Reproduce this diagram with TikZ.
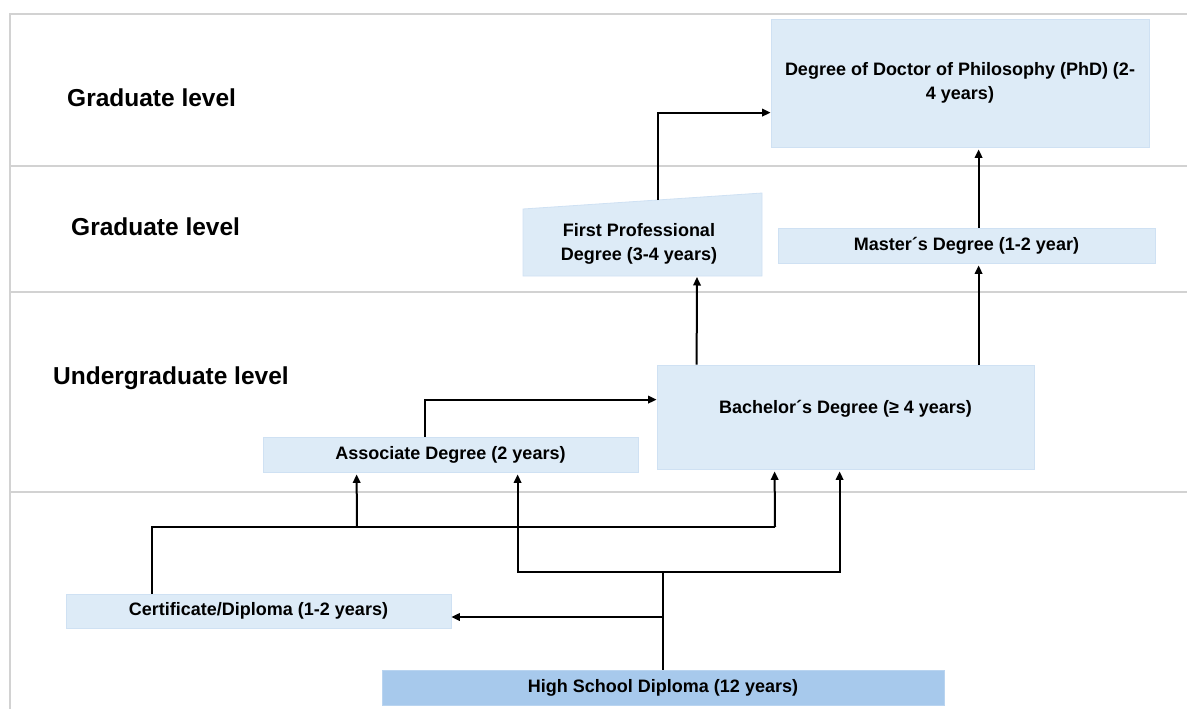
\documentclass[tikz,border=0pt]{standalone}
\usepackage{fontspec}
\setmainfont{Liberation Sans}
\usetikzlibrary{arrows.meta,calc}
\definecolor{boxfill}{HTML}{DDEBF7}
\definecolor{boxedge}{HTML}{CFE1F3}
\definecolor{hsfill}{HTML}{A7C9EC}
\definecolor{sepgray}{HTML}{D2D2D2}
\tikzset{
  box/.style={rectangle, fill=boxfill, draw=boxedge, line width=0.8pt, inner sep=0pt, align=center,
    font=\fontsize{18}{24}\selectfont\bfseries},
  lvl/.style={anchor=west, inner sep=0pt, font=\fontsize{24.5}{28}\selectfont\bfseries},
  sep/.style={draw=sepgray, line width=2.5pt},
  conn/.style={line width=2pt, black},
  arr/.style={conn, -{Triangle[length=8.5pt,width=7.5pt]}},
}
\begin{document}
\begin{tikzpicture}[x=1pt,y=-1pt]
\useasboundingbox (0,0) rectangle (1187,709);
% frame and band separators
\draw[sep] (1187,14) -- (10,14) -- (10,709);
\draw[sep] (10,166) -- (1187,166);
\draw[sep] (10,292) -- (1187,292);
\draw[sep] (10,492) -- (1187,492);
% level labels
\node[lvl] (l1) at (67,98) {Graduate level};
\node[lvl] (l2) at (71,227) {Graduate level};
\node[lvl] (l3) at (53,378) {Undergraduate level};
% boxes
\node[box, minimum width=378pt, minimum height=128pt] (phd) at (960,83)
  {Degree of Doctor of Philosophy (PhD) (2-\\4 years)};
\node[box, minimum width=377pt, minimum height=35pt] (ms) at (966.5,245.5) {Master´s Degree (1-2 year)};
\node[box, minimum width=377pt, minimum height=104pt] (ba) at (845.5,417) {\raisebox{20pt}{Bachelor´s Degree (≥ 4 years)}};
\node[box, minimum width=375pt, minimum height=35pt] (as) at (450.5,454.5) {Associate Degree (2 years)};
\node[box, minimum width=385pt, minimum height=34pt] (ce) at (258.5,611) {Certificate/Diploma (1-2 years)};
\node[box, fill=hsfill, draw=hsfill!80!white, minimum width=562pt, minimum height=35pt] (hs) at (663,687.5) {High School Diploma (12 years)};
% first professional degree (slanted top)
\path[fill=boxfill, draw=boxedge, line width=0.8pt] (523,209) -- (762,193) -- (762,276) -- (523,276) -- cycle;
\node[box, fill=none, draw=none] (fp) at (639,243.5) {First Professional\\Degree (3-4 years)};
\coordinate (fpA) at (658,200);
\coordinate (fpB) at (697,277);
% connectors
\draw[arr] (fpA) |- ($(phd.north west)+(0,94)$);
\draw[arr] ($(ms.north west)+(201,0)$) -- ($(phd.south west)+(208,2)$);
\draw[arr] ($(ba.north west)+(322,0)$) -- ($(ms.south west)+(201,2)$);
\draw[arr] ($(ba.north west)+(40,0)$) -- (fpB);
\draw[arr] ($(as.north west)+(162,0)$) |- ($(ba.north west)+(0,35)$);
\coordinate (j1) at (775,527);
\coordinate (j2) at (357,527);
\draw[conn] ($(ce.north west)+(86,0)$) |- (j1);
\draw[arr] (j1) -- ($(ba.south west)+(118,2)$);
\draw[arr] (j2) -- ($(as.south west)+(94,2)$);
\coordinate (j3) at (663,572);
\coordinate (j4) at (663,617);
\draw[conn] (hs.north) -- (j3);
\draw[arr] (j3) -| ($(as.south west)+(255,2)$);
\draw[arr] (j3) -| ($(ba.south west)+(183,2)$);
\draw[arr] (j4) -- (ce.east |- j4);
\end{tikzpicture}
\end{document}
